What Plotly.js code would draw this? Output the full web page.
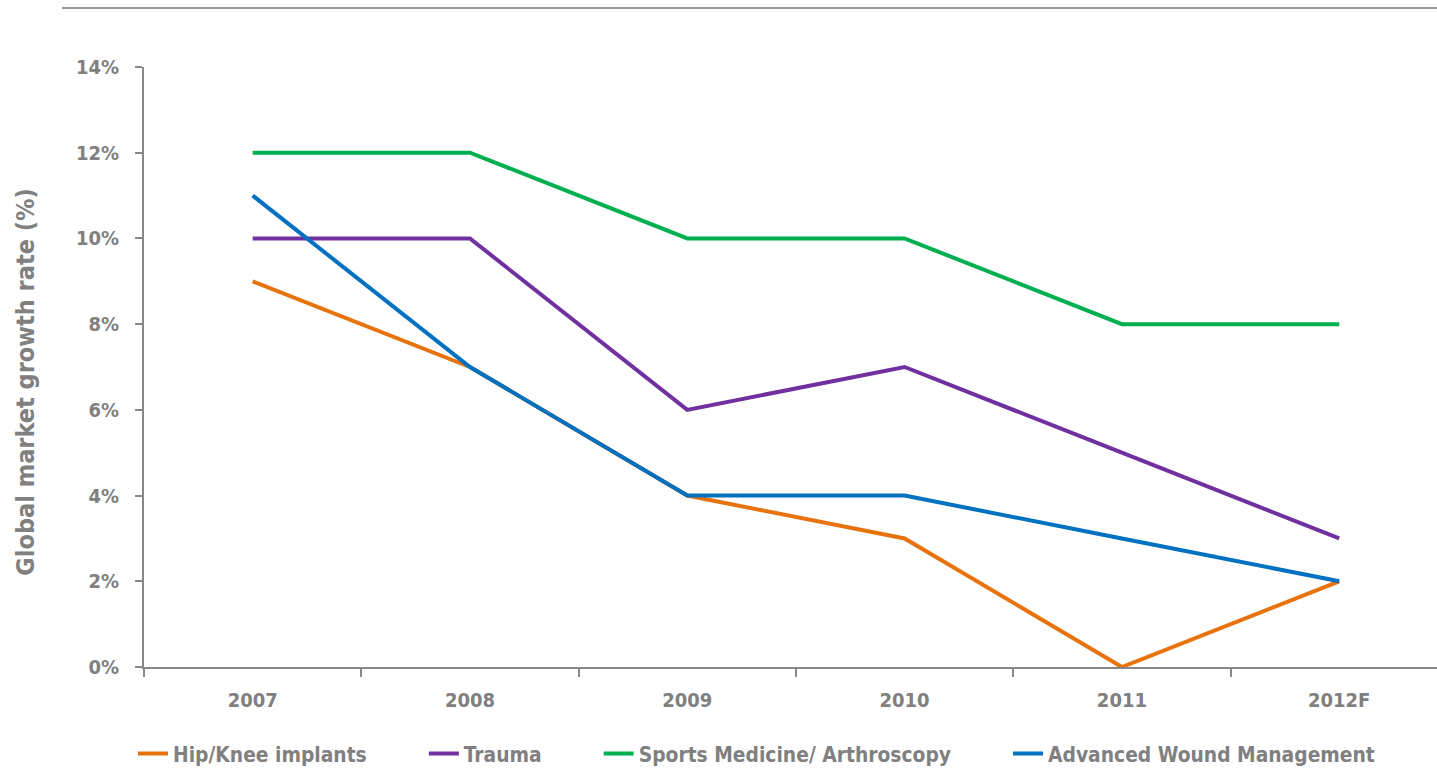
<!DOCTYPE html>
<html>
<head>
<meta charset="utf-8">
<script src="https://cdn.plot.ly/plotly-3.0.1.min.js"></script>
<style>html,body{margin:0;padding:0;background:#fff;}#chart{width:1437px;height:769px;}</style>
</head>
<body>
<div id="chart"></div>
<script>
const years = ["2007", "2008", "2009", "2010", "2011", "2012F"];
const seriesNames = ["Hip/Knee implants", "Trauma", "Sports Medicine/ Arthroscopy", "Advanced Wound Management"];
const hipKnee = [9, 7, 4, 3, 0, 2];
const trauma = [10, 10, 6, 7, 5, 3];
const sportsMed = [12, 12, 10, 10, 8, 8];
const woundMgmt = [11, 7, 4, 4, 3, 2];
const colors = ["#E8720C", "#7030A0", "#00B050", "#0070C0"];
const yTicks = [0, 2, 4, 6, 8, 10, 12, 14];
const yTickText = yTicks.map(v => v + "%");

const FONT = "'Liberation Sans Narrow', 'DejaVu Sans Condensed', 'Arial Narrow', sans-serif";
const GREY = "#808080";
const PAD = "\u00A0".repeat(8);

const values = [hipKnee, trauma, sportsMed, woundMgmt];
const traces = values.map((v, i) => ({
  x: years, y: v, type: "scatter", mode: "lines",
  name: seriesNames[i] + (i < values.length - 1 ? PAD : ""),
  line: {color: colors[i], width: 4}
}));

const f = (s) => ({family: FONT, size: s, color: GREY, weight: "bold", stretch: "condensed"});

const layout = {
  width: 1437, height: 769,
  margin: {l: 144, r: 0, t: 67, b: 102, autoexpand: false},
  paper_bgcolor: "#fff", plot_bgcolor: "#fff",
  font: f(20),
  showlegend: true,
  legend: {
    orientation: "h", x: -0.0085, xanchor: "left", y: -0.145, yanchor: "middle",
    font: f(20.8), traceorder: "normal", itemwidth: 30
  },
  xaxis: {
    type: "category", range: [-0.5, 5.45],
    showline: true, linecolor: "#888", linewidth: 2,
    ticks: "outside", tickson: "boundaries", ticklen: 8, tickcolor: "#888", tickwidth: 2,
    showgrid: false, zeroline: false,
    tickfont: f(20), ticklabelstandoff: 14
  },
  yaxis: {
    range: [0, 14], tickvals: yTicks, ticktext: yTickText,
    showline: true, linecolor: "#888", linewidth: 2,
    ticks: "outside", ticklen: 7, tickcolor: "#888", tickwidth: 2,
    showgrid: false, zeroline: false,
    tickfont: f(20), ticklabelstandoff: 12
  },
  shapes: [{
    type: "line", xref: "paper", yref: "paper",
    x0: -0.0634, x1: 1.0, y0: 1.0983, y1: 1.0983,
    line: {color: "#999", width: 2}
  }],
  annotations: [{
    text: "Global market growth rate (%)", textangle: -90,
    xref: "paper", yref: "paper", x: -0.0923, y: 0.475,
    xanchor: "center", yanchor: "middle", showarrow: false,
    font: f(25)
  }]
};

Plotly.newPlot("chart", traces, layout, {displayModeBar: false, staticPlot: true});
</script>
</body>
</html>
